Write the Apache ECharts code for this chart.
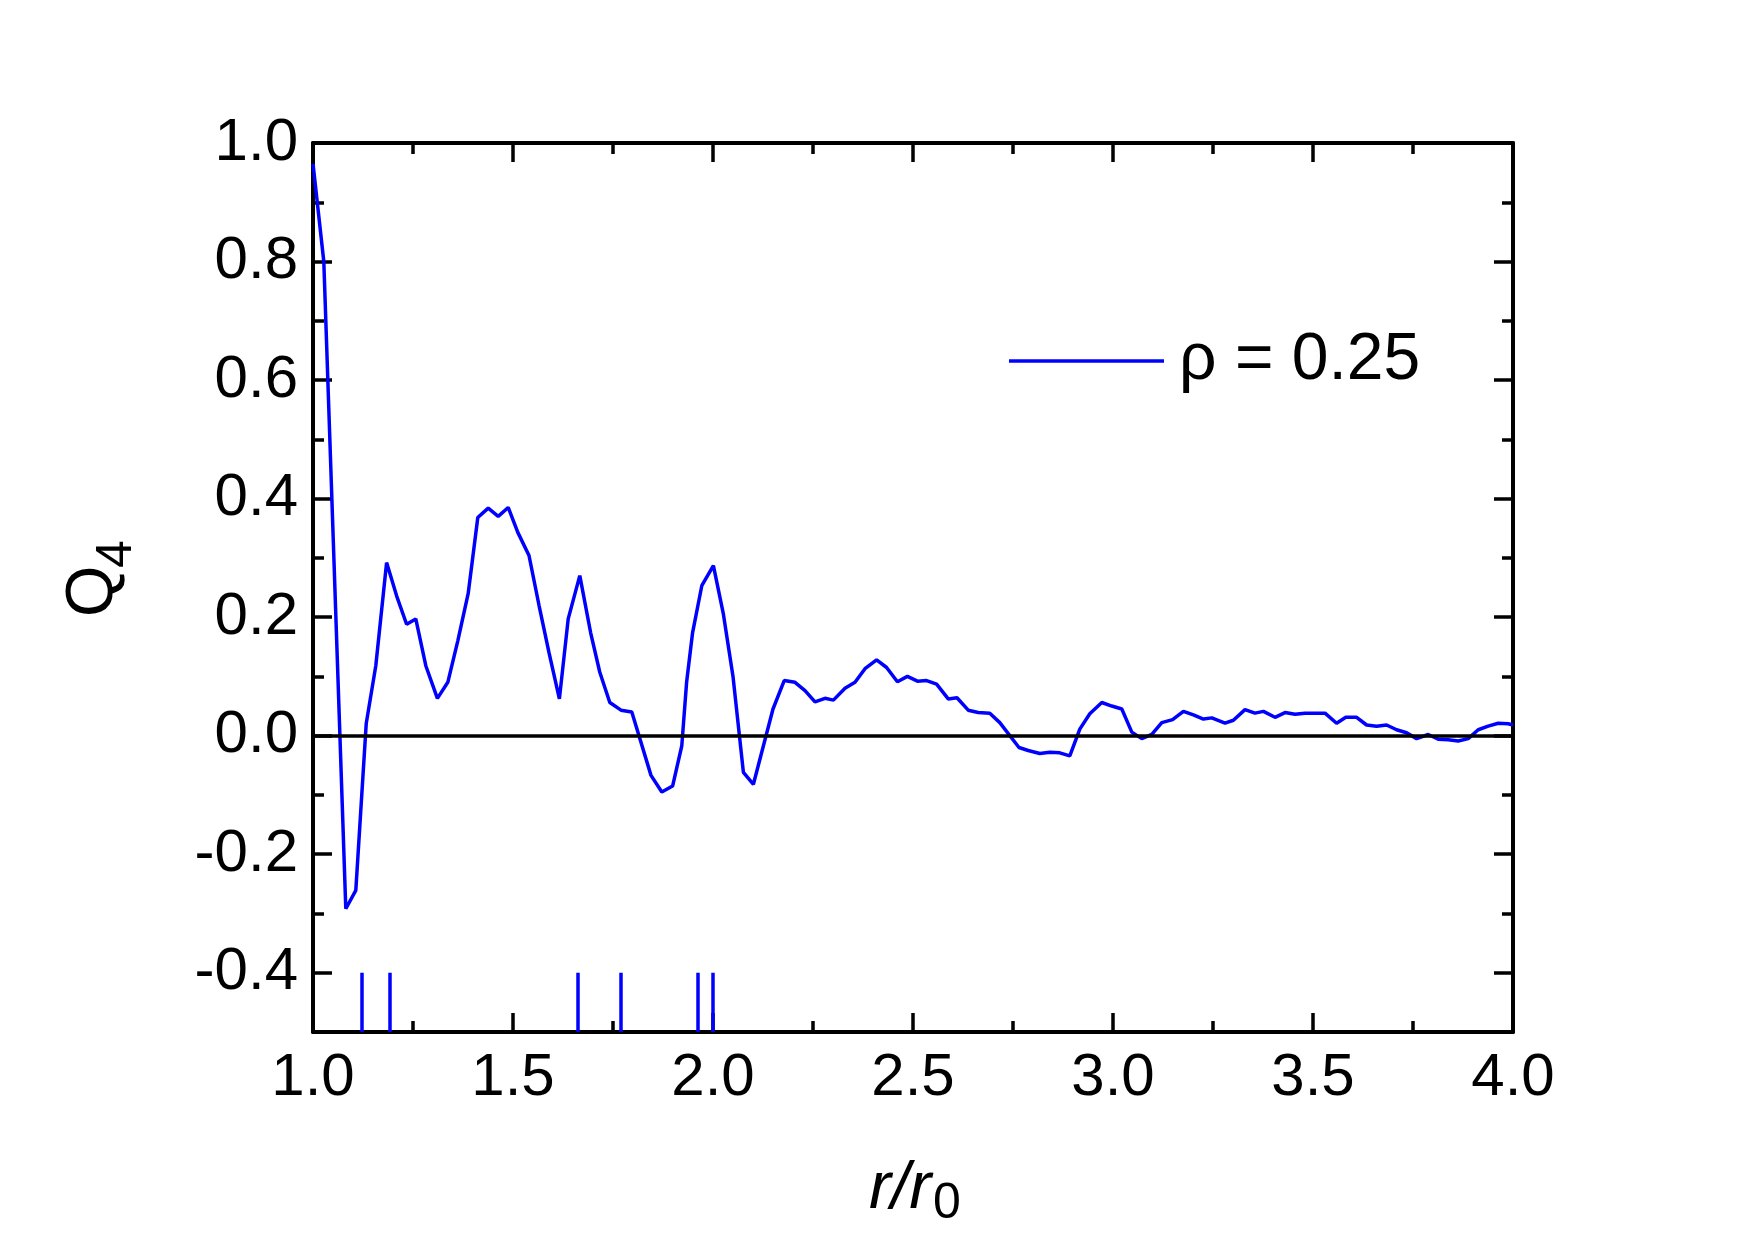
<!DOCTYPE html>
<html>
<head>
<meta charset="utf-8">
<script src="https://cdn.jsdelivr.net/npm/echarts@6/dist/echarts.min.js"></script>
<style>
html,body{margin:0;padding:0;background:#fff;}
#chart{width:1754px;height:1239px;}
</style>
</head>
<body>
<div id="chart"></div>
<script>
// r / r0 values of the curve
const rVals = [1.000,1.027,1.082,1.107,1.133,1.157,1.184,1.209,1.234,1.257,1.282,1.311,1.337,1.362,1.388,1.412,1.438,1.463,1.488,1.512,1.540,1.565,1.590,1.616,1.638,1.667,1.694,1.717,1.742,1.770,1.797,1.845,1.872,1.899,1.922,1.934,1.949,1.972,2.001,2.026,2.050,2.076,2.101,2.150,2.178,2.205,2.230,2.255,2.280,2.301,2.330,2.355,2.380,2.409,2.434,2.461,2.486,2.511,2.534,2.559,2.588,2.610,2.638,2.663,2.692,2.717,2.765,2.788,2.817,2.842,2.867,2.892,2.917,2.942,2.972,2.997,3.022,3.047,3.072,3.097,3.122,3.149,3.176,3.201,3.226,3.247,3.280,3.301,3.330,3.355,3.376,3.405,3.430,3.455,3.480,3.505,3.530,3.559,3.582,3.609,3.634,3.659,3.684,3.709,3.734,3.759,3.788,3.813,3.838,3.863,3.888,3.913,3.938,3.963,3.988,4.000];
// Q4 values
const q4Vals = [0.965,0.800,-0.292,-0.261,0.020,0.118,0.292,0.236,0.188,0.197,0.118,0.063,0.090,0.160,0.240,0.368,0.384,0.370,0.385,0.343,0.304,0.220,0.140,0.062,0.197,0.270,0.174,0.107,0.056,0.043,0.040,-0.067,-0.095,-0.085,-0.017,0.090,0.174,0.253,0.287,0.205,0.100,-0.062,-0.082,0.045,0.093,0.090,0.076,0.057,0.063,0.060,0.080,0.090,0.113,0.128,0.115,0.091,0.100,0.092,0.093,0.087,0.062,0.064,0.043,0.039,0.038,0.022,-0.020,-0.025,-0.030,-0.028,-0.029,-0.034,0.011,0.037,0.056,0.050,0.045,0.006,-0.005,0.002,0.022,0.027,0.041,0.035,0.028,0.030,0.021,0.026,0.044,0.038,0.041,0.031,0.039,0.036,0.038,0.038,0.038,0.021,0.031,0.031,0.018,0.016,0.018,0.010,0.005,-0.005,0.002,-0.006,-0.007,-0.009,-0.005,0.010,0.016,0.021,0.020,0.018];
// shell positions marked at the bottom
const shellR = [1.123, 1.192, 1.661, 1.769, 1.961, 1.999];
const shellBottom = -0.5;
const shellTop = -0.4;
// tick values
const yMajor = [-0.4, -0.2, 0.0, 0.2, 0.4, 0.6, 0.8, 1.0];
const yMinor = [-0.3, -0.1, 0.1, 0.3, 0.5, 0.7, 0.9];
const seriesName = 'ρ = 0.25';

const FONT = "'Liberation Sans', Arial, sans-serif";
const chart = echarts.init(document.getElementById('chart'));

const curveData = rVals.map((r, i) => [r, q4Vals[i]]);
const shellLines = shellR.map(r => [{coord: [r, shellBottom]}, {coord: [r, shellTop]}]);

function xAx(pos, showLabel) {
  return {
    type: 'value', position: pos, min: 1, max: 4, interval: 0.5,
    axisLine: {show: true, onZero: false, lineStyle: {color: '#000', width: 4}},
    axisTick: {show: true, inside: true, length: 19, lineStyle: {color: '#000', width: 3.5}},
    minorTick: {show: true, splitNumber: 2, length: 11, lineStyle: {color: '#000', width: 3.5}},
    axisLabel: {show: showLabel, margin: 16, fontSize: 60, color: '#000', fontFamily: FONT,
      formatter: v => v.toFixed(1)},
    splitLine: {show: false}, minorSplitLine: {show: false}
  };
}
function yAx(pos, major, showLine) {
  return {
    type: 'value', position: pos, min: -0.5, max: 1.0,
    axisLine: {show: showLine, onZero: false, lineStyle: {color: '#000', width: 4}},
    axisTick: {show: true, inside: true, length: major ? 19 : 11,
      customValues: major ? yMajor : yMinor, lineStyle: {color: '#000', width: 3.5}},
    axisLabel: {show: major && pos === 'left', customValues: yMajor, margin: 15, fontSize: 60,
      color: '#000', fontFamily: FONT, formatter: v => v.toFixed(1)},
    splitLine: {show: false}
  };
}

chart.setOption({
  backgroundColor: '#fff',
  animation: false,
  grid: {left: 313, top: 143, width: 1200, height: 889, containLabel: false, outerBoundsMode: 'none'},
  xAxis: [xAx('bottom', true), xAx('top', false)],
  yAxis: [yAx('left', true, true), yAx('left', false, false), yAx('right', true, true), yAx('right', false, false)],
  legend: {
    data: [{name: seriesName, icon: 'rect'}], left: 1009, top: 326, padding: 0,
    itemWidth: 155, itemHeight: 3.5,
    itemStyle: {color: '#0000ff'},
    textStyle: {fontSize: 66, lineHeight: 70, color: '#000', fontFamily: FONT, padding: [0, 0, 0, 10]}
  },
  series: [
    {
      name: seriesName, type: 'line', xAxisIndex: 0, yAxisIndex: 0,
      data: curveData, symbol: 'none', showSymbol: false, smooth: false,
      lineStyle: {color: '#0000ff', width: 3.5}, itemStyle: {color: '#0000ff'},
      markLine: {
        silent: true, symbol: ['none', 'none'], animation: false,
        label: {show: false},
        lineStyle: {color: '#000', width: 3.5, type: 'solid'},
        data: [{yAxis: 0}]
      },
      z: 3
    },
    {
      name: 'shells', type: 'line', xAxisIndex: 0, yAxisIndex: 0, data: [],
      markLine: {
        silent: true, symbol: ['none', 'none'], animation: false,
        label: {show: false},
        lineStyle: {color: '#0000ff', width: 3.5, type: 'solid'},
        data: shellLines
      }
    }
  ],
  graphic: [
    {type: 'text', x: 94, y: 617, rotation: Math.PI / 2,
      style: {text: 'Q', font: "66px 'Liberation Sans', Arial, sans-serif", fill: '#000', align: 'left', verticalAlign: 'middle'}},
    {type: 'text', x: 117, y: 568, rotation: Math.PI / 2,
      style: {text: '4', font: "50px 'Liberation Sans', Arial, sans-serif", fill: '#000', align: 'left', verticalAlign: 'middle'}},
    {type: 'text', x: 869, y: 1190,
      style: {text: 'r/r', font: "italic 66px 'Liberation Sans', Arial, sans-serif", fill: '#000', align: 'left', verticalAlign: 'middle'}},
    {type: 'text', x: 933, y: 1204,
      style: {text: '0', font: "50px 'Liberation Sans', Arial, sans-serif", fill: '#000', align: 'left', verticalAlign: 'middle'}}
  ]
});
</script>
</body>
</html>
